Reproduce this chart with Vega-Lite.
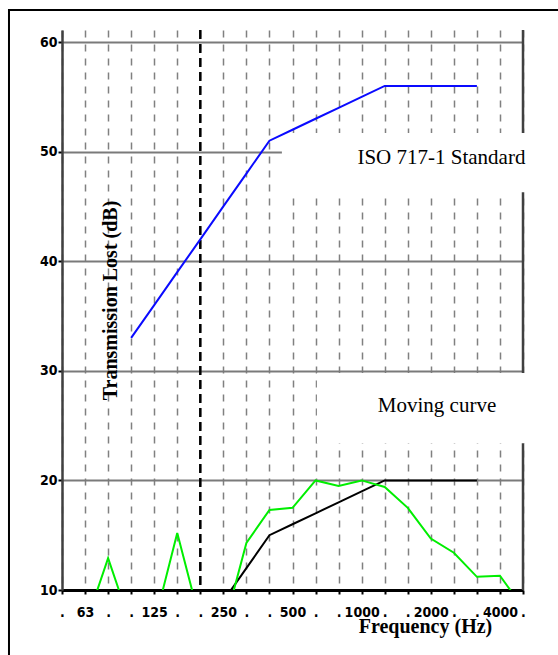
{
  "$schema": "https://vega.github.io/schema/vega-lite/v6.json",
  "width": 461,
  "height": 560,
  "autosize": "none",
  "padding": {"left": 62, "top": 30, "right": 35, "bottom": 65},
  "background": "white",
  "config": {"view": {"stroke": null}},
  "datasets": {
    "curves": [
      {"series": "ISO 717-1", "band": 3, "freq": 100, "dB": 33},
      {"series": "ISO 717-1", "band": 4, "freq": 125, "dB": 36},
      {"series": "ISO 717-1", "band": 5, "freq": 160, "dB": 39},
      {"series": "ISO 717-1", "band": 6, "freq": 200, "dB": 42},
      {"series": "ISO 717-1", "band": 7, "freq": 250, "dB": 45},
      {"series": "ISO 717-1", "band": 8, "freq": 315, "dB": 48},
      {"series": "ISO 717-1", "band": 9, "freq": 400, "dB": 51},
      {"series": "ISO 717-1", "band": 10, "freq": 500, "dB": 52},
      {"series": "ISO 717-1", "band": 11, "freq": 630, "dB": 53},
      {"series": "ISO 717-1", "band": 12, "freq": 800, "dB": 54},
      {"series": "ISO 717-1", "band": 13, "freq": 1000, "dB": 55},
      {"series": "ISO 717-1", "band": 14, "freq": 1250, "dB": 56},
      {"series": "ISO 717-1", "band": 15, "freq": 1600, "dB": 56},
      {"series": "ISO 717-1", "band": 16, "freq": 2000, "dB": 56},
      {"series": "ISO 717-1", "band": 17, "freq": 2500, "dB": 56},
      {"series": "ISO 717-1", "band": 18, "freq": 3150, "dB": 56},
      {"series": "Moving", "band": 7, "freq": 250, "dB": 9},
      {"series": "Moving", "band": 8, "freq": 315, "dB": 12},
      {"series": "Moving", "band": 9, "freq": 400, "dB": 15},
      {"series": "Moving", "band": 10, "freq": 500, "dB": 16},
      {"series": "Moving", "band": 11, "freq": 630, "dB": 17},
      {"series": "Moving", "band": 12, "freq": 800, "dB": 18},
      {"series": "Moving", "band": 13, "freq": 1000, "dB": 19},
      {"series": "Moving", "band": 14, "freq": 1250, "dB": 20},
      {"series": "Moving", "band": 15, "freq": 1600, "dB": 20},
      {"series": "Moving", "band": 16, "freq": 2000, "dB": 20},
      {"series": "Moving", "band": 17, "freq": 2500, "dB": 20},
      {"series": "Moving", "band": 18, "freq": 3150, "dB": 20},
      {"series": "Measured", "band": 1, "freq": 63, "dB": 6.7},
      {"series": "Measured", "band": 2, "freq": 80, "dB": 12.9},
      {"series": "Measured", "band": 3, "freq": 100, "dB": 6.7},
      {"series": "Measured", "band": 4, "freq": 125, "dB": 6.9},
      {"series": "Measured", "band": 5, "freq": 160, "dB": 15.2},
      {"series": "Measured", "band": 6, "freq": 200, "dB": 7.1},
      {"series": "Measured", "band": 7, "freq": 250, "dB": 6.4},
      {"series": "Measured", "band": 8, "freq": 315, "dB": 14.3},
      {"series": "Measured", "band": 9, "freq": 400, "dB": 17.3},
      {"series": "Measured", "band": 10, "freq": 500, "dB": 17.5},
      {"series": "Measured", "band": 11, "freq": 630, "dB": 20.0},
      {"series": "Measured", "band": 12, "freq": 800, "dB": 19.5},
      {"series": "Measured", "band": 13, "freq": 1000, "dB": 20.0},
      {"series": "Measured", "band": 14, "freq": 1250, "dB": 19.4},
      {"series": "Measured", "band": 15, "freq": 1600, "dB": 17.5},
      {"series": "Measured", "band": 16, "freq": 2000, "dB": 14.7},
      {"series": "Measured", "band": 17, "freq": 2500, "dB": 13.4},
      {"series": "Measured", "band": 18, "freq": 3150, "dB": 11.2},
      {"series": "Measured", "band": 19, "freq": 4000, "dB": 11.3},
      {"series": "Measured", "band": 20, "freq": 5000, "dB": 8.4}
    ],
    "boxes": [
      {"name": "frame", "band": -2.3, "band2": 22, "dB": 62.92, "dB2": 0},
      {"name": "iso", "band": 9.54, "band2": 20.4, "dB": 51.7, "dB2": 46.3},
      {"name": "moving", "band": 11.06, "band2": 20.4, "dB": 29.8, "dB2": 23.4}
    ],
    "notes": [
      {"text": "ISO 717-1 Standard", "band": 16.46, "dB": 48.9},
      {"text": "Moving curve", "band": 16.27, "dB": 26.25}
    ],
    "verticals": [
      {"name": "right", "band": 20, "dB": 61.1, "dB2": 10},
      {"name": "200 Hz", "band": 6, "dB": 61.1, "dB2": 10}
    ]
  },
  "encoding": {
    "x": {
      "field": "band", "type": "quantitative",
      "scale": {"domain": [0, 20], "nice": false, "zero": false},
      "axis": {
        "values": [0,1,2,3,4,5,6,7,8,9,10,11,12,13,14,15,16,17,18,19,20],
        "labelExpr": "['.', '63', '.', '.', '125', '.', '.', '250', '.', '.', '500', '.', '.', '1000', '.', '.', '2000', '.', '.', '4000', '.'][datum.value]",
        "labelOverlap": false, "labelFlush": false, "labelBound": false,
        "labelFont": "DejaVu Sans Condensed, DejaVu Sans", "labelFontWeight": "bold", "labelFontSize": 14, "labelColor": "black",
        "labelPadding": 11,
        "grid": true, "gridColor": "#808080", "gridDash": [7, 7], "gridWidth": 1.5,
        "domainColor": "black", "domainWidth": 3,
        "tickColor": "black", "tickSize": 4, "tickWidth": 2,
        "title": "Frequency (Hz)",
        "titleFont": "Liberation Serif", "titleFontWeight": "bold", "titleFontSize": 20, "titleColor": "black",
        "titleX": 363, "titleY": 42, "titleAlign": "center", "titleBaseline": "alphabetic"
      }
    },
    "y": {
      "field": "dB", "type": "quantitative",
      "scale": {"domain": [10, 61.1], "nice": false, "zero": false},
      "axis": {
        "values": [10, 20, 30, 40, 50, 60],
        "labelFont": "DejaVu Sans Condensed, DejaVu Sans", "labelFontWeight": "bold", "labelFontSize": 14, "labelColor": "black",
        "labelPadding": 1,
        "grid": true, "gridColor": "#7a7a7a", "gridWidth": 2,
        "domainColor": "#404040", "domainWidth": 2.5,
        "tickColor": "black", "tickSize": 4, "tickWidth": 2,
        "title": "Transmission Lost (dB)",
        "titleFont": "Liberation Serif", "titleFontWeight": "bold", "titleFontSize": 20, "titleColor": "black",
        "titleX": 48, "titleY": 270, "titleAlign": "center", "titleBaseline": "middle", "titleAngle": -90
      }
    }
  },
  "layer": [
    {
      "data": {"name": "boxes"},
      "transform": [{"filter": "datum.name === 'frame'"}],
      "mark": {"type": "rect", "fill": "transparent", "stroke": "black", "strokeWidth": 2, "clip": false},
      "encoding": {"x2": {"field": "band2"}, "y2": {"field": "dB2"}}
    },
    {
      "data": {"name": "verticals"},
      "transform": [{"filter": "datum.name === 'right'"}],
      "mark": {"type": "rule", "color": "#404040", "strokeWidth": 2.5},
      "encoding": {"y2": {"field": "dB2"}}
    },
    {
      "data": {"name": "verticals"},
      "transform": [{"filter": "datum.name === '200 Hz'"}],
      "mark": {"type": "rule", "color": "black", "strokeWidth": 2.5, "strokeDash": [9, 5]},
      "encoding": {"y2": {"field": "dB2"}}
    },
    {
      "data": {"name": "boxes"},
      "transform": [{"filter": "datum.name !== 'frame'"}],
      "mark": {"type": "rect", "fill": "white", "clip": false},
      "encoding": {"x2": {"field": "band2"}, "y2": {"field": "dB2"}}
    },
    {
      "data": {"name": "curves"},
      "mark": {"type": "line", "clip": true, "strokeWidth": 2},
      "encoding": {
        "color": {"field": "series", "type": "nominal",
          "scale": {"domain": ["ISO 717-1", "Moving", "Measured"], "range": ["#0a0aff", "black", "#00ee00"]},
          "legend": null},
        "detail": {"field": "series"}
      }
    },
    {
      "data": {"name": "notes"},
      "mark": {"type": "text", "font": "Liberation Serif", "fontSize": 21, "align": "center", "baseline": "alphabetic", "color": "black"},
      "encoding": {"text": {"field": "text"}}
    }
  ]
}
